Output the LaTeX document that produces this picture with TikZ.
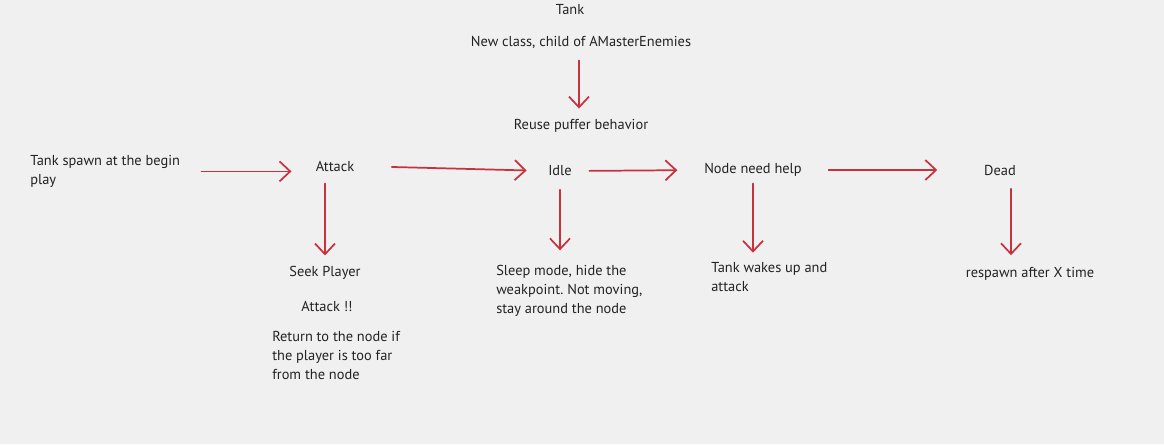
\documentclass[tikz,border=0pt]{standalone}
\usepackage{fontspec}
\setmainfont{PT Sans}
\frenchspacing
\usetikzlibrary{arrows.meta,calc}
\definecolor{bg}{HTML}{F0F0F0}
\definecolor{ink}{HTML}{222222}
\definecolor{pen}{HTML}{C8323F}
\begin{document}
\begin{tikzpicture}[x=0.75pt,y=-0.75pt,
  lbl/.style={inner sep=0pt,text=ink,font=\fontsize{10.8}{14.3}\selectfont},
  multi/.style={lbl,align=left,anchor=north west},
  flow/.style={draw=pen,line width=1.3pt,line cap=round,line join=round,
    -{Straight Barb[length=8pt,width=15pt,line width=1.3pt]}}]
\fill[bg] (0,0) rectangle (1164,444);
\useasboundingbox (0,0) rectangle (1164,444);

\node[lbl] (tank) at (570,10) {Tank};
\node[lbl] (newclass) at (581,42) {New class, child of AMasterEnemies};
\node[lbl] (reuse) at (581,126) {Reuse puffer behavior};

\node[multi] (spawn) at (30,155) {Tank spawn at the begin\\play};
\node[lbl] (attack) at (335,166) {Attack};
\node[lbl] (seek) at (325,273) {Seek Player};
\node[lbl] (attack2) at (327,306) {Attack !!};
\node[multi] (ret) at (272,331) {Return to the node if\\the player is too far\\from the node};

\node[lbl] (idle) at (560,171) {Idle};
\node[multi] (sleep) at (496,265) {Sleep mode, hide the\\weakpoint. Not moving,\\stay around the node};

\node[lbl] (need) at (753,170) {Node need help};
\node[multi] (wakes) at (711,262) {Tank wakes up and\\attack};

\node[lbl] (dead) at (1000,170) {Dead};
\node[lbl] (respawn) at (1030,274) {respawn after X time};

\coordinate (deadout) at ($(dead.south)+(11,0)$);

\draw[flow,shorten <=9pt,shorten >=8pt] (newclass.south -| 579,0) -- (reuse.north -| 579,0);
\draw[flow,shorten <=16pt,shorten >=18pt] (spawn.east) -- (attack.west |- spawn.east);
\draw[flow,shorten <=9pt,shorten >=8pt] (attack.south -| seek) -- (seek.north);
\draw[flow,shorten <=28pt,shorten >=16pt] (attack.east) -- (idle.west);
\draw[flow,shorten <=10pt,shorten >=11pt] (idle.south) -- (idle.south |- sleep.north);
\draw[flow,shorten <=13pt,shorten >=20pt] (idle.east) -- (need.west);
\draw[flow,shorten <=5pt,shorten >=7pt] (need.south) -- (need.south |- wakes.north);
\draw[flow,shorten <=20pt,shorten >=35pt] (need.east) -- (dead.west);
\draw[flow,shorten <=10pt,shorten >=9pt] (deadout) -- (deadout |- respawn.north);
\end{tikzpicture}
\end{document}
